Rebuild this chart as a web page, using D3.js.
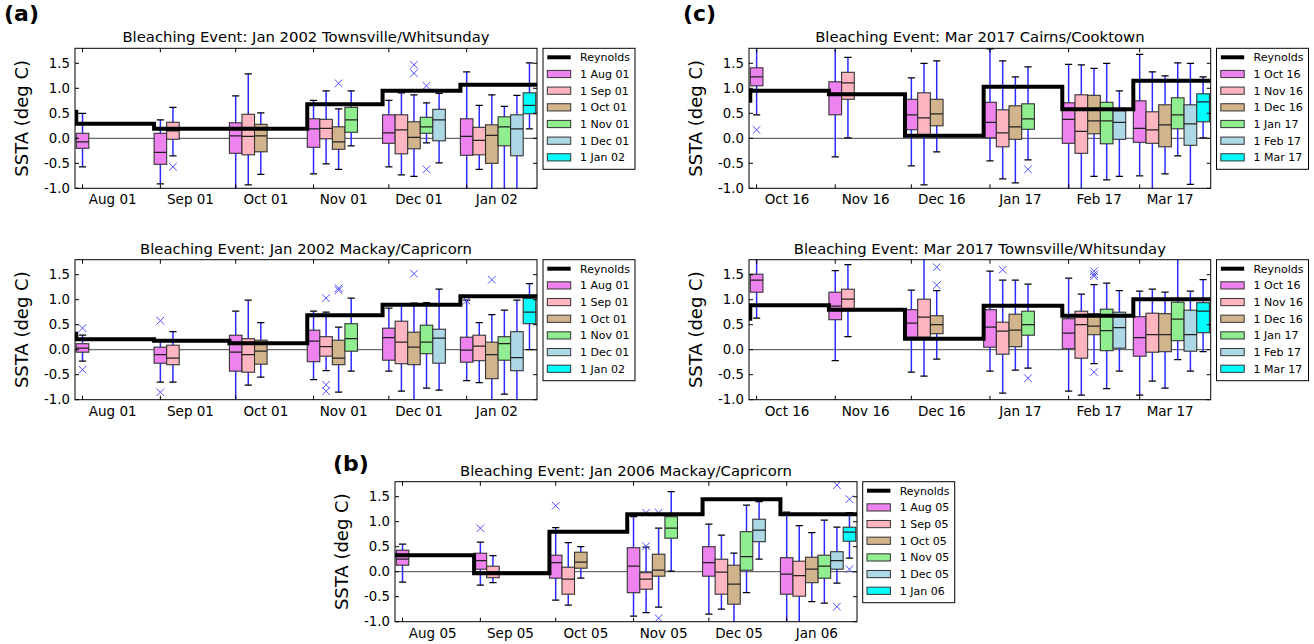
<!DOCTYPE html>
<html>
<head>
<meta charset="utf-8">
<script src="https://cdn.jsdelivr.net/npm/d3@7"></script>
<style>
body { margin: 0; background: #fff; }
svg { display: block; }
text { font-family: "DejaVu Sans", sans-serif; fill: #000; }
</style>
</head>
<body>
<svg width="1314" height="644"></svg>
<script>
// Box colours, one per forecast start date (legend order)
var seriesColors = ["#ee82ee", "#ffb6c1", "#d2b48c", "#90ee90", "#add8e6", "#00ffff"];

// Month ticks for each event (also the forecast start dates in the legends)
var months2002 = ["2001-08", "2001-09", "2001-10", "2001-11", "2001-12", "2002-01"];
var months2017 = ["2016-10", "2016-11", "2016-12", "2017-01", "2017-02", "2017-03"];
var months2006 = ["2005-08", "2005-09", "2005-10", "2005-11", "2005-12", "2006-01"];

// Reynolds monthly SSTA; first value is the month before the first tick
var aTopReynolds = [0.53, 0.29, 0.19, 0.19, 0.68, 0.95, 1.07];
var aBotReynolds = [0.32, 0.21, 0.18, 0.13, 0.69, 0.90, 1.07];
var cTopReynolds = [0.75, 0.95, 0.88, 0.05, 1.03, 0.58, 1.15];
var cBotReynolds = [0.62, 0.89, 0.80, 0.22, 0.88, 0.68, 1.01];
var bReynolds = [0.33, 0.33, -0.03, 0.80, 1.15, 1.45, 1.15];

// Boxes per month, one per forecast start: [whiskerLow, q1, median, q3, whiskerHigh]
var aTopBoxes = [
  [[-0.57, -0.20, -0.07, 0.10, 0.50]],
  [[-0.91, -0.52, -0.28, 0.10, 0.37], [-0.35, -0.02, 0.15, 0.32, 0.62]],
  [[-1.10, -0.30, 0.05, 0.31, 0.85], [-0.93, -0.33, 0.04, 0.48, 1.29], [-0.72, -0.27, 0.05, 0.28, 0.51]],
  [[-0.71, -0.18, 0.19, 0.39, 0.76], [-0.51, -0.01, 0.20, 0.38, 0.95], [-0.62, -0.22, -0.07, 0.23, 0.59], [-0.15, 0.12, 0.37, 0.62, 0.95]],
  [[-0.57, -0.10, 0.11, 0.47, 0.76], [-0.73, -0.31, 0.17, 0.47, 0.91], [-0.76, -0.21, 0.02, 0.33, 0.87], [-0.09, 0.10, 0.23, 0.42, 0.71], [-0.49, -0.05, 0.37, 0.58, 0.90]],
  [[-1.10, -0.34, 0.04, 0.39, 1.33], [-0.62, -0.33, -0.04, 0.22, 0.66], [-1.10, -0.50, 0.06, 0.27, 0.87], [-1.10, -0.15, 0.23, 0.43, 0.64], [-1.10, -0.35, 0.19, 0.47, 0.86], [0.19, 0.49, 0.66, 0.91, 1.51]]
];
var aBotBoxes = [
  [[-0.23, -0.05, 0.03, 0.12, 0.29]],
  [[-0.65, -0.27, -0.10, 0.05, 0.17], [-0.65, -0.30, -0.17, 0.09, 0.36]],
  [[-1.10, -0.43, -0.05, 0.29, 0.77], [-0.71, -0.45, -0.10, 0.22, 0.99], [-0.55, -0.29, -0.03, 0.19, 0.54]],
  [[-0.60, -0.24, 0.17, 0.39, 0.77], [-0.42, -0.13, 0.06, 0.26, 0.75], [-0.85, -0.30, -0.17, 0.19, 0.45], [-0.43, -0.03, 0.22, 0.52, 1.03]],
  [[-0.43, -0.21, 0.24, 0.43, 0.83], [-0.83, -0.28, 0.15, 0.57, 0.90], [-1.10, -0.30, 0.05, 0.35, 0.93], [-0.77, -0.08, 0.15, 0.49, 0.94], [-0.81, -0.27, 0.23, 0.41, 1.21]],
  [[-0.62, -0.25, -0.01, 0.25, 0.99], [-0.66, -0.22, 0.07, 0.29, 0.54], [-1.10, -0.58, -0.10, 0.15, 0.70], [-0.89, -0.21, 0.12, 0.26, 0.79], [-1.10, -0.42, -0.16, 0.36, 0.99], [0.00, 0.52, 0.75, 1.03, 1.32]]
];
var cTopBoxes = [
  [[0.47, 1.05, 1.23, 1.41, 1.90]],
  [[-0.37, 0.47, 0.89, 1.13, 1.90], [0.01, 0.78, 1.11, 1.32, 1.62]],
  [[-0.55, 0.17, 0.47, 0.78, 1.21], [-0.93, 0.07, 0.41, 0.91, 1.50], [-0.27, 0.25, 0.49, 0.78, 1.55]],
  [[-0.45, 0.01, 0.32, 0.72, 1.79], [-0.81, -0.17, 0.11, 0.57, 1.55], [-0.89, -0.02, 0.23, 0.65, 1.23], [-0.43, 0.18, 0.39, 0.69, 1.43]],
  [[-1.10, -0.10, 0.38, 0.71, 1.48], [-1.10, -0.30, 0.14, 0.87, 1.47], [-0.76, 0.09, 0.35, 0.86, 1.40], [-0.83, -0.11, 0.35, 0.72, 1.50], [-0.76, -0.02, 0.32, 0.55, 0.95]],
  [[-0.75, -0.08, 0.20, 0.75, 1.68], [-1.10, -0.10, 0.17, 0.53, 1.33], [-0.71, -0.17, 0.27, 0.67, 1.25], [-0.35, 0.19, 0.47, 0.81, 1.51], [-0.92, -0.14, 0.29, 0.67, 1.50], [0.01, 0.33, 0.73, 0.89, 1.23]]
];
var cBotBoxes = [
  [[0.63, 1.15, 1.39, 1.51, 1.90]],
  [[-0.22, 0.60, 0.87, 1.15, 1.58], [0.26, 0.78, 1.01, 1.21, 1.70]],
  [[-0.45, 0.25, 0.53, 0.80, 1.19], [-0.53, 0.25, 0.65, 1.01, 1.90], [-0.19, 0.32, 0.50, 0.68, 1.18]],
  [[-0.43, 0.05, 0.45, 0.80, 1.57], [-0.87, -0.09, 0.37, 0.55, 1.39], [-0.41, 0.06, 0.39, 0.71, 1.39], [-0.37, 0.29, 0.50, 0.77, 1.31]],
  [[-0.83, 0.02, 0.33, 0.62, 1.43], [-0.91, -0.17, 0.50, 0.77, 1.11], [-0.28, 0.30, 0.47, 0.72, 1.30], [-0.78, -0.02, 0.38, 0.81, 1.33], [-0.43, 0.03, 0.44, 0.75, 1.18]],
  [[-0.91, -0.13, 0.24, 0.66, 1.17], [-0.63, -0.05, 0.30, 0.73, 1.21], [-0.77, -0.04, 0.30, 0.72, 1.15], [-0.20, 0.18, 0.61, 0.95, 1.90], [-0.43, -0.03, 0.30, 0.79, 1.17], [-0.04, 0.34, 0.77, 0.94, 1.40]]
];
var bBoxes = [
  [[-0.21, 0.13, 0.25, 0.43, 0.55]],
  [[-0.27, 0.05, 0.22, 0.37, 0.59], [-0.22, -0.12, 0.00, 0.11, 0.32]],
  [[-0.57, -0.13, 0.18, 0.33, 0.88], [-0.67, -0.45, -0.15, 0.09, 0.58], [-0.13, 0.07, 0.19, 0.39, 0.50]],
  [[-0.89, -0.42, 0.11, 0.48, 1.10], [-0.82, -0.35, -0.15, -0.02, 0.49], [-0.71, -0.09, 0.03, 0.35, 0.87], [0.01, 0.67, 0.87, 1.10, 1.60]],
  [[-0.85, -0.09, 0.18, 0.50, 0.95], [-0.75, -0.45, -0.01, 0.25, 0.73], [-1.10, -0.65, -0.25, 0.13, 0.37], [-0.42, 0.03, 0.30, 0.80, 1.33], [0.25, 0.60, 0.83, 1.05, 1.40]],
  [[-1.10, -0.45, -0.05, 0.28, 1.19], [-1.10, -0.49, -0.08, 0.21, 0.92], [-0.60, -0.22, 0.05, 0.29, 0.78], [-0.63, -0.13, 0.11, 0.33, 1.03], [-0.23, 0.05, 0.22, 0.40, 0.89], [0.27, 0.61, 0.79, 0.89, 1.18]]
];

// Outliers: [monthIndex, seriesIndex, value]
var aTopOutliers = [[1, 1, -0.57], [3, 2, 1.10], [4, 2, 1.47], [4, 2, 1.30], [4, 3, 1.05], [4, 3, -0.62]];
var aBotOutliers = [[0, 0, 0.43], [0, 0, -0.40], [1, 0, 0.58], [1, 0, -0.85], [3, 1, 1.03], [3, 1, -0.70], [3, 1, -0.83],
                    [3, 2, 1.23], [3, 2, 1.19], [4, 2, 1.52], [5, 0, 0.98], [5, 2, 1.40]];
var cTopOutliers = [[0, 0, 0.17], [3, 3, -0.62]];
var cBotOutliers = [[2, 2, 1.65], [2, 2, 1.29], [3, 1, 1.60], [3, 3, -0.57], [4, 2, 1.57], [4, 2, 1.51], [4, 2, 1.47], [4, 2, -0.45]];
var bOutliers = [[1, 0, 0.87], [2, 0, 1.32], [3, 1, 1.18], [3, 1, 0.51], [3, 2, 1.18], [3, 2, -0.93],
                 [5, 4, 1.73], [5, 4, -0.70], [5, 5, 1.45], [5, 5, 0.05]];

var yTicks = [-1.0, -0.5, 0.0, 0.5, 1.0, 1.5];

var parseMonth = d3.timeParse("%Y-%m");
var monthLabel = d3.timeFormat("%b %y");
var tickFmt = function (v) { return d3.format(".1f")(v).replace("\u2212", "-"); };

var svg = d3.select("svg");

// Panel placement
var panels = [
  { id: "aTop", left: 75, right: 537, top: 48.3, title: "Bleaching Event: Jan 2002 Townsville/Whitsunday",
    months: months2002, reynolds: aTopReynolds, boxes: aTopBoxes, outliers: aTopOutliers, legendX: 543 },
  { id: "aBot", left: 75, right: 537, top: 259.7, title: "Bleaching Event: Jan 2002 Mackay/Capricorn",
    months: months2002, reynolds: aBotReynolds, boxes: aBotBoxes, outliers: aBotOutliers, legendX: 543 },
  { id: "cTop", left: 749, right: 1210.7, top: 48.3, title: "Bleaching Event: Mar 2017 Cairns/Cooktown",
    months: months2017, reynolds: cTopReynolds, boxes: cTopBoxes, outliers: cTopOutliers, legendX: 1216.5 },
  { id: "cBot", left: 749, right: 1210.7, top: 259.7, title: "Bleaching Event: Mar 2017 Townsville/Whitsunday",
    months: months2017, reynolds: cBotReynolds, boxes: cBotBoxes, outliers: cBotOutliers, legendX: 1216.5 },
  { id: "b", left: 395, right: 857, top: 481.7, title: "Bleaching Event: Jan 2006 Mackay/Capricorn",
    months: months2006, reynolds: bReynolds, boxes: bBoxes, outliers: bOutliers, legendX: 862.7 }
];

panels.forEach(drawPanel);

// Panel letters
[["(a)", 4, 21], ["(c)", 683, 21], ["(b)", 333, 471]].forEach(function (l) {
  svg.append("text").attr("x", l[1]).attr("y", l[2])
    .style("font-size", "22px").style("font-weight", "bold").text(l[0]);
});


function drawPanel(p) {
  var months = p.months.map(parseMonth);
  var bottom = p.top + 140;

  var x = d3.scaleTime()
    .domain([d3.timeDay.offset(months[0], -3), d3.timeDay.offset(months[months.length - 1], 28)])
    .range([p.left, p.right]);
  var y = d3.scaleLinear().domain([-1, 1.8]).range([bottom, p.top]);

  var g = svg.append("g");
  g.append("clipPath").attr("id", "clip-" + p.id)
    .append("rect").attr("x", p.left).attr("y", p.top)
    .attr("width", p.right - p.left).attr("height", bottom - p.top);
  var plot = g.append("g").attr("clip-path", "url(#clip-" + p.id + ")");

  // zero line
  plot.append("line")
    .attr("x1", p.left).attr("x2", p.right).attr("y1", y(0)).attr("y2", y(0))
    .attr("stroke", "#444").attr("stroke-width", 1);

  // each box sits 5 days after the previous one in its month
  function cx(m, k) { return x(d3.timeHour.offset(months[m], 120 * k)); }
  var half = x(d3.timeHour.offset(months[0], 60)) - x(months[0]);
  var capHalf = 3.6;

  var flat = [];
  p.boxes.forEach(function (monthBoxes, m) {
    monthBoxes.forEach(function (b, k) {
      flat.push({ m: m, k: k, lo: b[0], q1: b[1], med: b[2], q3: b[3], hi: b[4] });
    });
  });

  var box = plot.selectAll("g.box").data(flat).enter().append("g").attr("class", "box");

  box.append("line")
    .attr("x1", function (d) { return cx(d.m, d.k); }).attr("x2", function (d) { return cx(d.m, d.k); })
    .attr("y1", function (d) { return y(d.lo); }).attr("y2", function (d) { return y(d.hi); })
    .attr("stroke", "#2a2aff").attr("stroke-width", 1.5);
  box.append("line")
    .attr("x1", function (d) { return cx(d.m, d.k) - capHalf; }).attr("x2", function (d) { return cx(d.m, d.k) + capHalf; })
    .attr("y1", function (d) { return y(d.hi); }).attr("y2", function (d) { return y(d.hi); })
    .attr("stroke", "#000").attr("stroke-width", 1.2);
  box.append("line")
    .attr("x1", function (d) { return cx(d.m, d.k) - capHalf; }).attr("x2", function (d) { return cx(d.m, d.k) + capHalf; })
    .attr("y1", function (d) { return y(d.lo); }).attr("y2", function (d) { return y(d.lo); })
    .attr("stroke", "#000").attr("stroke-width", 1.2);
  box.append("rect")
    .attr("x", function (d) { return cx(d.m, d.k) - half; })
    .attr("width", 2 * half)
    .attr("y", function (d) { return y(d.q3); })
    .attr("height", function (d) { return y(d.q1) - y(d.q3); })
    .attr("fill", function (d) { return seriesColors[d.k]; })
    .attr("stroke", "#333").attr("stroke-width", 1.1);
  box.append("line")
    .attr("x1", function (d) { return cx(d.m, d.k) - half; }).attr("x2", function (d) { return cx(d.m, d.k) + half; })
    .attr("y1", function (d) { return y(d.med); }).attr("y2", function (d) { return y(d.med); })
    .attr("stroke", "#222").attr("stroke-width", 1.2);

  // outliers as x markers
  var s = 3.8;
  plot.selectAll("path.flier").data(p.outliers).enter().append("path")
    .attr("class", "flier")
    .attr("d", function (d) {
      var px = cx(d[0], d[1]), py = y(d[2]);
      return "M" + (px - s) + "," + (py - s) + "L" + (px + s) + "," + (py + s) +
             "M" + (px - s) + "," + (py + s) + "L" + (px + s) + "," + (py - s);
    })
    .attr("fill", "none").attr("stroke", "#4f4fff").attr("stroke-width", 1);

  // Reynolds step line, steps half a box before each month
  var stepStarts = [d3.timeMonth.offset(months[0], -1)].concat(months);
  var pts = p.reynolds.map(function (v, i) { return [x(d3.timeHour.offset(stepStarts[i], -60)), y(v)]; });
  pts.push([p.right, y(p.reynolds[p.reynolds.length - 1])]);
  plot.append("path")
    .attr("d", d3.line().curve(d3.curveStepAfter)(pts))
    .attr("fill", "none").attr("stroke", "#000").attr("stroke-width", 4);

  // frame
  g.append("rect").attr("x", p.left).attr("y", p.top)
    .attr("width", p.right - p.left).attr("height", bottom - p.top)
    .attr("fill", "none").attr("stroke", "#000").attr("stroke-width", 1);

  // ticks, inward on all four sides
  var tl = 4;
  yTicks.forEach(function (v) {
    g.append("line").attr("x1", p.left).attr("x2", p.left + tl).attr("y1", y(v)).attr("y2", y(v)).attr("stroke", "#000");
    g.append("line").attr("x1", p.right).attr("x2", p.right - tl).attr("y1", y(v)).attr("y2", y(v)).attr("stroke", "#000");
    g.append("text").attr("x", p.left - 5).attr("y", y(v)).attr("dy", "0.36em")
      .attr("text-anchor", "end").style("font-size", "13.3px").text(tickFmt(v));
  });
  months.forEach(function (m) {
    g.append("line").attr("x1", x(m)).attr("x2", x(m)).attr("y1", bottom).attr("y2", bottom - tl).attr("stroke", "#000");
    g.append("line").attr("x1", x(m)).attr("x2", x(m)).attr("y1", p.top).attr("y2", p.top + tl).attr("stroke", "#000");
    // labels sit about 12 days into the month
    g.append("text").attr("x", x(d3.timeDay.offset(m, 12))).attr("y", bottom + 16)
      .attr("text-anchor", "middle").style("font-size", "13.5px").text(monthLabel(m));
  });

  // title and y label
  g.append("text").attr("x", (p.left + p.right) / 2).attr("y", p.top - 6)
    .attr("text-anchor", "middle").style("font-size", "14.8px").text(p.title);
  g.append("text")
    .attr("transform", "translate(" + (p.left - 47) + "," + (p.top + 70) + ")rotate(-90)")
    .attr("text-anchor", "middle").style("font-size", "18px").text("SSTA (deg C)");

  // legend
  var lx = p.legendX, ly = p.top;
  var lg = g.append("g");
  lg.append("rect").attr("x", lx).attr("y", ly).attr("width", 92).attr("height", 121)
    .attr("fill", "#fff").attr("stroke", "#000").attr("stroke-width", 1);
  lg.append("line").attr("x1", lx + 4.3).attr("x2", lx + 27.7).attr("y1", ly + 9).attr("y2", ly + 9)
    .attr("stroke", "#000").attr("stroke-width", 4);
  lg.append("text").attr("x", lx + 37).attr("y", ly + 9).attr("dy", "0.36em")
    .style("font-size", "11px").text("Reynolds");
  months.forEach(function (m, i) {
    var cy = ly + 25.7 + 16.67 * i;
    lg.append("rect").attr("x", lx + 4.3).attr("y", cy - 3.6).attr("width", 23.4).attr("height", 7.2)
      .attr("fill", seriesColors[i]).attr("stroke", "#333").attr("stroke-width", 1);
    lg.append("text").attr("x", lx + 37).attr("y", cy).attr("dy", "0.36em")
      .style("font-size", "11px").text("1 " + monthLabel(m));
  });
}
</script>
</body>
</html>
